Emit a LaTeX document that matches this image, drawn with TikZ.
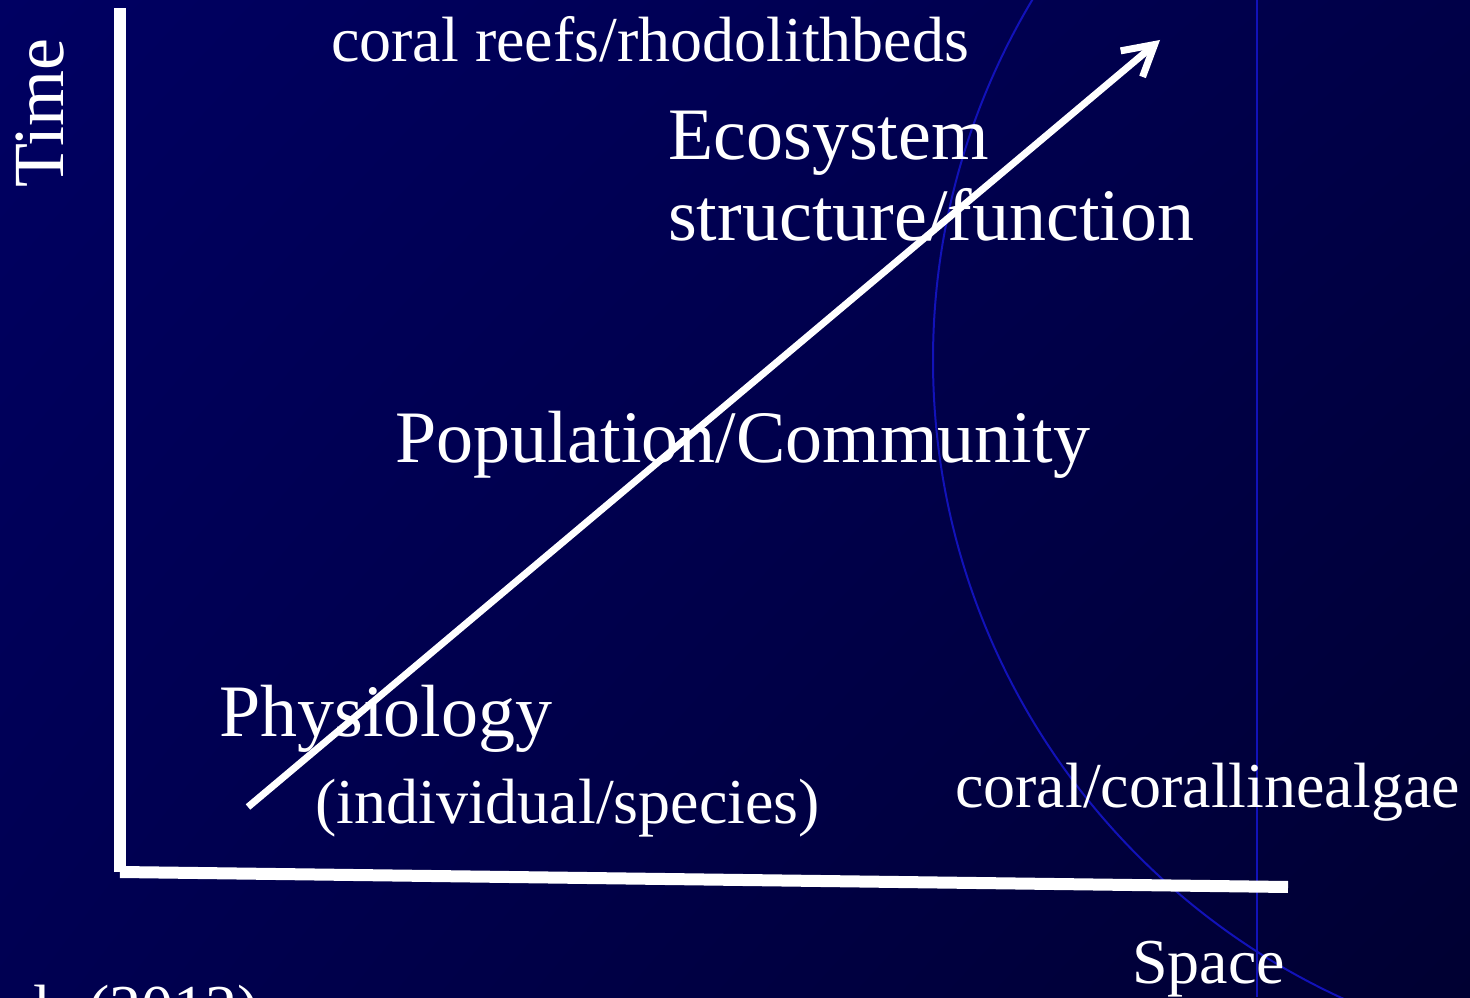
\documentclass[tikz,border=0pt]{standalone}
\usepackage{fontspec}
\setmainfont{Liberation Serif}
\usetikzlibrary{arrows.meta, shadings}

\definecolor{navyTL}{RGB}{0,0,98}
\definecolor{navyBL}{RGB}{0,0,82}
\definecolor{navyTR}{RGB}{0,0,72}
\definecolor{navyBR}{RGB}{0,0,50}
\definecolor{guideblue}{RGB}{18,18,185}

\begin{document}
\begin{tikzpicture}[x=1pt, y=1pt,
  axisline/.style={line width=12pt, white},
  trend/.style={line width=7pt, white, -{Straight Barb[length=30pt, width=34pt]}},
  guide/.style={line width=2pt, guideblue},
  bigtext/.style={anchor=base west, inner sep=0pt, text=white, align=left,
                  font=\fontsize{74}{81}\selectfont},
  smalltext/.style={anchor=base west, inner sep=0pt, text=white,
                    font=\fontsize{64}{70}\selectfont}
]

\useasboundingbox (0,0) rectangle (1470,997);
\clip (0,0) rectangle (1470,997);
\shade[upper left=navyTL, lower left=navyBL, upper right=navyTR, lower right=navyBR]
  (0,0) rectangle (1470,997);

% slide decoration
\draw[guide] (1635,637) circle (702);
\draw[guide] (1257,0) -- (1257,997);

% axes
\coordinate (origin) at (120,125);
\coordinate (ytop)   at (120,989);
\coordinate (xend)   at (1288,110);
\draw[axisline] (origin) -- (ytop);
\draw[axisline] (origin) -- (xend);

\node[smalltext, rotate=90] (time)  at (63,809) {\fontsize{72}{72}\selectfont Time};
\node[smalltext]            (space) at (1132,14) {Space};

% scale arrow
\coordinate (low)  at (248,190);
\coordinate (high) at (1160,957);
\draw[trend] (low) -- (high);

% levels
\node[bigtext]   (phys)  at (219,261) {Physiology};
\node[smalltext] (indiv) at (315,174) {(individual/species)};
\node[bigtext]   (popc)  at (395,534) {Population/Community};
\node[bigtext]   (ecos)  at (668,756) {Ecosystem\\structure/function};

% examples
\node[smalltext] (reefs) at (331,935) {coral reefs/rhodolithbeds};
\node[smalltext] (algae) at (955,190) {coral/corallinealgae};
\node[smalltext] (cite)  at (33,-32)  {l. (2012)};

\end{tikzpicture}
\end{document}
